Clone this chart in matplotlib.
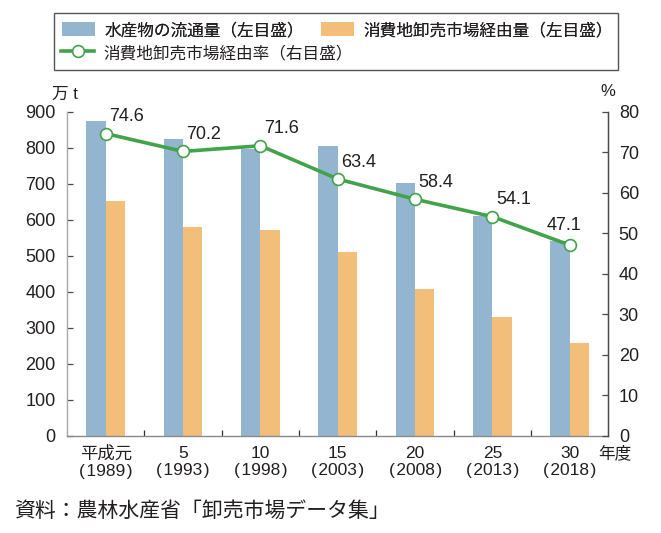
import matplotlib
matplotlib.use("Agg")
import matplotlib.pyplot as plt
from matplotlib.patches import Patch, Rectangle
from matplotlib.lines import Line2D
import numpy as np

# ---- data ----
categories_top = ["平成元", "5", "10", "15", "20", "25", "30"]
categories_year = ["1989", "1993", "1998", "2003", "2008", "2013", "2018"]
distribution_volume = [874, 823, 797, 805, 702, 610, 542]      # 水産物の流通量（万t）
market_volume = [651, 579, 573, 510, 409, 330, 257]            # 消費地卸売市場経由量（万t）
market_rate = [74.6, 70.2, 71.6, 63.4, 58.4, 54.1, 47.1]       # 消費地卸売市場経由率（%）
left_ticks = [0, 100, 200, 300, 400, 500, 600, 700, 800, 900]
right_ticks = [0, 10, 20, 30, 40, 50, 60, 70, 80]

label_blue = "水産物の流通量（左目盛）"
label_orange = "消費地卸売市場経由量（左目盛）"
label_line = "消費地卸売市場経由率（右目盛）"
source_text = "資料：農林水産省「卸売市場データ集」"

# ---- style ----
FAM = ["Liberation Sans", "Noto Sans CJK JP", "DejaVu Sans"]
plt.rcParams["font.family"] = FAM
TXT = "#231f20"
BLUE = "#94b5d0"
ORANGE = "#f2be7a"
GREEN = "#43a34b"

W, H = 661, 533
fig = plt.figure(figsize=(W / 100, H / 100), dpi=100)
ax = fig.add_axes([66.7 / W, 1 - 436 / H, (607.7 - 66.7) / W, (436 - 111.7) / H])
ax2 = ax.twinx()

x = np.arange(len(categories_top))
bw = 0.25
ax.bar(x - bw / 2, distribution_volume, width=bw, color=BLUE, zorder=2)
ax.bar(x + bw / 2, market_volume, width=bw, color=ORANGE, zorder=2)

ax.set_xlim(-0.505, 6.49)
ax.set_ylim(0, 900)
ax2.set_ylim(0, 80)

ax2.plot(x, market_rate, color=GREEN, lw=2.6, marker="o", ms=8.5,
         mfc="white", mec=GREEN, mew=1.2, zorder=5, clip_on=False)

for i, v in enumerate(market_rate):
    if i == len(market_rate) - 1:
        ax2.annotate(f"{v:.1f}", (x[i], v), xytext=(-4, 8), textcoords="offset points",
                     ha="center", va="bottom", fontsize=13, color=TXT)
    else:
        ax2.annotate(f"{v:.1f}", (x[i], v), xytext=(2.5, 6), textcoords="offset points",
                     ha="left", va="bottom", fontsize=13, color=TXT)

# spines
for a in (ax, ax2):
    a.spines["top"].set_visible(False)
ax.spines["left"].set_color("#a8a8a8")
ax.spines["bottom"].set_color("#8a8a8a")
ax2.spines["right"].set_color("#4a4a4a")
ax2.spines["left"].set_visible(False)
ax2.spines["bottom"].set_visible(False)
for s in ("left", "bottom"):
    ax.spines[s].set_linewidth(1.0)
ax2.spines["right"].set_linewidth(1.0)

ax.set_yticks(left_ticks)
ax.set_yticklabels([str(t) for t in left_ticks])
ax.tick_params(axis="y", direction="in", length=4, width=0.9, color="#4a4a4a",
               labelsize=13, labelcolor=TXT, pad=8)
ax2.set_yticks(right_ticks)
ax2.set_yticklabels([str(t) for t in right_ticks])
ax2.tick_params(axis="y", direction="in", length=4, width=0.9, color="#4a4a4a",
                labelsize=13, labelcolor=TXT, pad=8)

ax.set_xticks(x)
ax.set_xticklabels([f"{a}\n(\u200a{b}\u200a)" for a, b in zip(categories_top, categories_year)],
                   linespacing=1.2)
ax.tick_params(axis="x", which="major", length=0, labelsize=12.5, labelcolor=TXT, pad=7)
ax.set_xticks(x[:-1] + 0.5, minor=True)
ax.tick_params(axis="x", which="minor", direction="in", length=4, width=0.9, color="#333333")

# unit labels
fig.text(65 / W, 1 - 94 / H, "万 t", ha="center", va="center", fontsize=12, color=TXT)
fig.text(608 / W, 1 - 92 / H, "%", ha="center", va="center", fontsize=12, color=TXT)
fig.text(598 / W, 1 - 453 / H, "年度", ha="left", va="center", fontsize=12, color=TXT)
fig.text(14 / W, 1 - 511 / H, source_text, ha="left", va="center", fontsize=15, color=TXT)

# legend (frame drawn separately so the two rows are not column-aligned)
common = dict(fontsize=12, frameon=False, borderaxespad=0, borderpad=0,
              handlelength=2.0, handleheight=0.95, handletextpad=0.55,
              columnspacing=1.0, numpoints=1)
leg1 = fig.legend([Patch(facecolor=BLUE, edgecolor="none"),
                   Patch(facecolor=ORANGE, edgecolor="none")],
                  [label_blue, label_orange], ncol=2, loc="center left",
                  bbox_to_anchor=(62 / W, 1 - 30 / H), **common)
leg2 = fig.legend([Line2D([0], [0], color=GREEN, lw=2.6, marker="o", ms=8.5,
                          mfc="white", mec=GREEN, mew=1.2)],
                  [label_line], ncol=1, loc="center left",
                  bbox_to_anchor=(61 / W, 1 - 53 / H), **common)
for lg in (leg1, leg2):
    for t in lg.get_texts():
        t.set_color(TXT)
fig.add_artist(leg1)
fig.patches.append(Rectangle((54.3 / W, 1 - 70 / H), (617.7 - 54.3) / W, (70 - 13.3) / H,
                             transform=fig.transFigure, fill=False,
                             edgecolor="#555555", lw=1.0))

fig.savefig("out.png", dpi=100)
